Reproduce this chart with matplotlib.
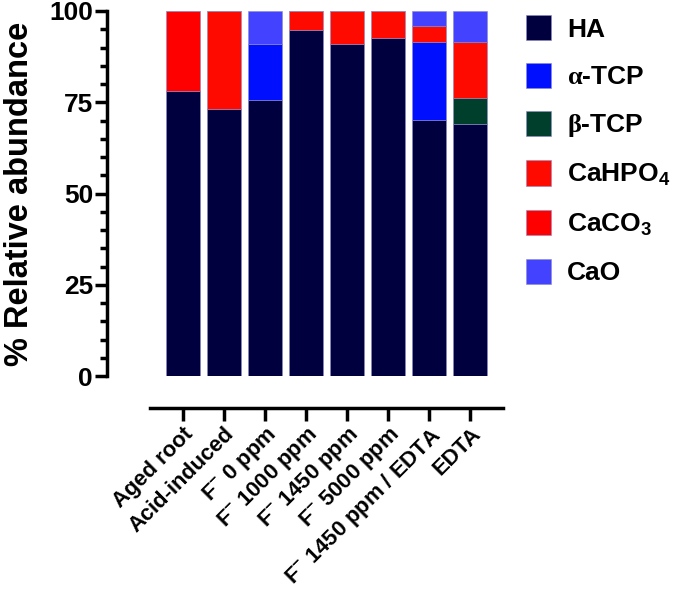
import numpy as np
import matplotlib
matplotlib.use("Agg")
import matplotlib.pyplot as plt

plt.rcParams['font.family'] = ['Liberation Sans', 'DejaVu Sans']
plt.rcParams['font.weight'] = 'bold'
plt.rcParams['mathtext.fontset'] = 'custom'
plt.rcParams['mathtext.rm'] = 'Liberation Serif'
plt.rcParams['mathtext.bf'] = 'Liberation Sans:bold'

categories = ['Aged root', 'Acid-induced', r'F$^{\mathbf{-}}$ 0 ppm', r'F$^{\mathbf{-}}$ 1000 ppm',
              r'F$^{\mathbf{-}}$ 1450 ppm', r'F$^{\mathbf{-}}$ 5000 ppm',
              r'F$^{\mathbf{-}}$ 1450 ppm / EDTA', 'EDTA']
ha     = [78.1, 73.2, 75.6, 94.8, 91.0, 92.6, 70.1, 69.1]
a_tcp  = [0, 0, 15.4, 0, 0, 0, 21.5, 0]
b_tcp  = [0, 0, 0, 0, 0, 0, 0, 7.2]
cahpo4 = [0, 26.8, 0, 5.2, 9.0, 7.4, 4.4, 15.3]
caco3  = [21.9, 0, 0, 0, 0, 0, 0, 0]
cao    = [0, 0, 9.0, 0, 0, 0, 4.0, 8.4]

series = [ha, a_tcp, b_tcp, cahpo4, caco3, cao]
names = ['HA', r'$\mathrm{\alpha}$-TCP', r'$\mathrm{\beta}$-TCP',
         r'CaHPO$_{\mathbf{4}}$', r'CaCO$_{\mathbf{3}}$', 'CaO']
colors = ['#00003f', '#0010ff', '#003f2c', '#ff0a00', '#ff0000', '#4343ff']

fig = plt.figure(figsize=(6.92, 5.92), dpi=100)
ax = fig.add_axes([150/692, 1-376/592, 353/692, 365/592])

# spines first: set_position resets the ticks
ax.spines['top'].set_visible(False)
ax.spines['right'].set_visible(False)
ax.spines['left'].set_position(('outward', 31))
ax.spines['left'].set_bounds(0, 100)
ax.spines['bottom'].set_position(('outward', 23))
ax.spines['left'].set_linewidth(2.5)
ax.spines['bottom'].set_linewidth(2.5)

x = np.arange(len(categories))
bottom = np.zeros(len(categories))
handles = []
for vals, c in zip(series, colors):
    vals = np.array(vals, dtype=float)
    b = ax.bar(x, vals, bottom=bottom, width=0.83, color=c,
               edgecolor='#8a8ac8', linewidth=0.4)
    handles.append(b)
    bottom += vals

ax.set_xlim(-0.8, 7.8)
ax.set_ylim(0, 100)
ax.set_yticks([0, 25, 50, 75, 100])
ax.set_yticks(np.arange(0, 101, 5), minor=True)
ax.tick_params(axis='y', labelsize=19, width=2.5, length=9, pad=1)
ax.tick_params(axis='y', which='minor', width=2.5, length=5)
ax.tick_params(axis='x', width=2.5, length=9, pad=2)
ax.set_xticks(x)
ax.set_xticklabels(categories, rotation=45, ha='right', rotation_mode='anchor',
                   fontsize=15.8, fontweight='bold')

ax.set_ylabel('% Relative abundance', fontsize=23.5, fontweight='bold', labelpad=10)

fig.legend(handles, names, loc='upper left', bbox_to_anchor=(526/692, 1 - 15/592),
           frameon=False, handlelength=0.95, handleheight=1.1, borderpad=0,
           borderaxespad=0, handletextpad=0.6, labelspacing=0.8,
           prop={'weight': 'bold', 'size': 19})

fig.savefig('out.png', dpi=100)
